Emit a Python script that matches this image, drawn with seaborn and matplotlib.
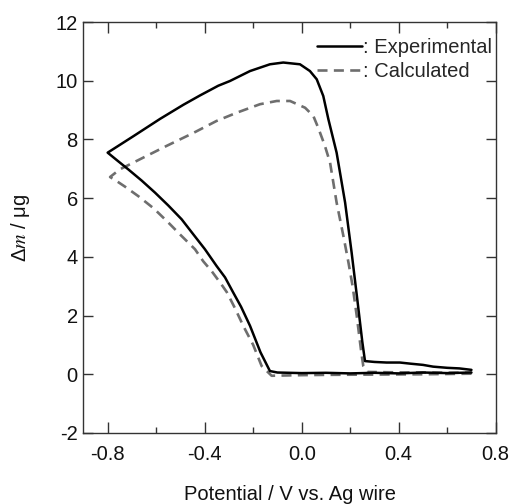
import matplotlib
matplotlib.use("Agg")
import matplotlib.pyplot as plt
from matplotlib.ticker import MultipleLocator
import pandas as pd
import seaborn as sns

# Experimental mass change over one potential cycle (V vs. Ag wire, µg)
exp_potential = [0.70, 0.60, 0.50, 0.40, 0.30, 0.20, 0.10, 0.00, -0.10, -0.131,
                 -0.17, -0.213, -0.25, -0.282, -0.316, -0.351, -0.399, -0.45, -0.495,
                 -0.55, -0.605, -0.66, -0.715, -0.76, -0.80,
                 -0.694, -0.584, -0.488, -0.419, -0.378, -0.344, -0.296, -0.213, -0.131,
                 -0.076, -0.007, 0.034, 0.062, 0.089, 0.11, 0.144, 0.179, 0.206,
                 0.23, 0.25, 0.261,
                 0.30, 0.35, 0.405, 0.45, 0.50, 0.542, 0.60, 0.65, 0.70]
exp_mass = [0.06, 0.04, 0.06, 0.03, 0.05, 0.03, 0.05, 0.04, 0.06, 0.11,
            0.75, 1.65, 2.30, 2.78, 3.30, 3.69, 4.26, 4.80, 5.28,
            5.75, 6.19, 6.60, 6.98, 7.28, 7.55,
            8.11, 8.70, 9.18, 9.50, 9.68, 9.83, 9.99, 10.33, 10.56,
            10.62, 10.56, 10.33, 10.05, 9.48, 8.69, 7.55, 5.85, 4.14,
            2.50, 1.10, 0.45,
            0.42, 0.40, 0.40, 0.36, 0.32, 0.26, 0.22, 0.20, 0.15]

# Calculated mass change over the same cycle
calc_potential = [0.70, 0.50, 0.30, 0.10, 0.00, -0.124, -0.165, -0.20, -0.241, -0.275,
                  -0.309, -0.33, -0.37, -0.406, -0.44, -0.50, -0.55, -0.61, -0.674,
                  -0.73, -0.77, -0.79,
                  -0.75, -0.68, -0.557, -0.447, -0.351, -0.268, -0.172, -0.103,
                  -0.048, 0.014, 0.048, 0.068, 0.095, 0.117, 0.144, 0.172,
                  0.193, 0.21, 0.227, 0.245, 0.254, 0.27, 0.35, 0.50, 0.70]
calc_mass = [0.02, 0.00, -0.01, -0.02, -0.03, -0.05, 0.28, 1.00, 1.65, 2.25,
             2.80, 3.05, 3.50, 3.85, 4.26, 4.75, 5.17, 5.65, 6.07,
             6.40, 6.62, 6.72,
             6.98, 7.27, 7.78, 8.22, 8.63, 8.91, 9.20, 9.31,
             9.31, 9.08, 8.80, 8.40, 7.80, 7.21, 5.85, 4.71,
             3.80, 3.00, 1.99, 0.80, 0.28, 0.08, 0.07, 0.06, 0.05]

labels = [": Experimental", ": Calculated"]

sns.set_theme(style="ticks")
plt.rcParams["font.family"] = ["Liberation Sans", "DejaVu Sans"]
plt.rcParams["mathtext.fontset"] = "stix"

fig = plt.figure(figsize=(5.13, 5.04), dpi=100)
ax = fig.add_axes([0.1626, 0.1409, 0.8037, 0.8154])

df_exp = pd.DataFrame({"potential": exp_potential, "mass": exp_mass})
df_calc = pd.DataFrame({"potential": calc_potential, "mass": calc_mass})

sns.lineplot(data=df_calc, x="potential", y="mass", sort=False, estimator=None,
             ax=ax, color="#6e6e6e", lw=1.9, label=labels[1])
ax.lines[-1].set_dashes((3.8, 2.4))
sns.lineplot(data=df_exp, x="potential", y="mass", sort=False, estimator=None,
             ax=ax, color="black", lw=1.8, label=labels[0])

FS = 14.5
ax.set_xlim(-0.9, 0.8)
ax.set_ylim(-2, 12)
xt = [-0.8, -0.4, 0.0, 0.4, 0.8]
ax.set_xticks(xt)
ax.set_xticklabels([f"{v:.1f}" for v in xt])
ax.xaxis.set_minor_locator(MultipleLocator(0.2))
yt = list(range(-2, 13, 2))
ax.set_yticks(yt)
ax.set_yticklabels([str(v) for v in yt])

ax.tick_params(axis="both", which="both", direction="in", top=True, right=True,
               labelsize=FS, colors="#333333", labelcolor="#111111")
ax.tick_params(axis="x", which="major", length=8, width=1, pad=9)
ax.tick_params(axis="x", which="minor", length=4, width=1)
ax.tick_params(axis="y", which="major", length=7, width=1, pad=4)
for s in ax.spines.values():
    s.set_linewidth(1.0)
    s.set_color("#333333")

ax.set_xlabel("Potential / V vs. Ag wire", fontsize=FS, labelpad=15, color="#111111")
ax.set_ylabel(r"Δ$m$ / μg", fontsize=FS, labelpad=17, color="#111111")

h, l = ax.get_legend_handles_labels()
order = [l.index(labels[0]), l.index(labels[1])]
ax.legend([h[i] for i in order], [l[i] for i in order], loc="upper right",
          bbox_to_anchor=(0.99, 0.96), frameon=False, fontsize=FS,
          handlelength=2.2, handletextpad=0.05, labelspacing=0.25,
          borderaxespad=0.0, borderpad=0.0)

fig.savefig("out.png", dpi=100)
